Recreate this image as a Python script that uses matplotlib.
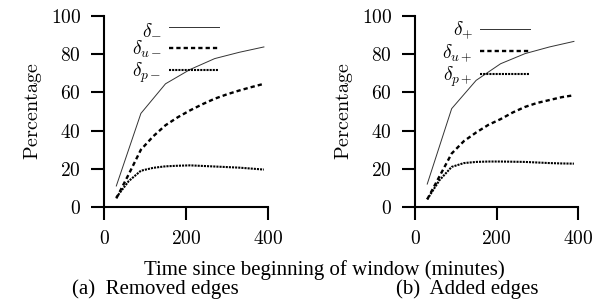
import matplotlib
matplotlib.use("Agg")
import matplotlib.pyplot as plt

plt.rcParams['mathtext.fontset'] = 'cm'
plt.rcParams['font.family'] = ['Liberation Serif', 'DejaVu Serif']

# Data
t_solid = [30, 90, 150, 210, 270, 330, 390]
t_fine = [30, 60, 90, 120, 150, 180, 210, 240, 270, 300, 330, 360, 390]

rem_delta = [11, 49, 64.5, 72, 77.7, 81, 83.8]
rem_u = [4.5, 17, 30, 37, 42.8, 47, 50.6, 53.8, 56.7, 59, 61, 62.8, 64.5]
rem_p = [5, 13.5, 19, 20.5, 21.3, 21.6, 21.8, 21.5, 21.2, 20.9, 20.6, 20.1, 19.6]

add_delta = [12, 51.5, 66.3, 75, 80.3, 83.8, 86.7]
add_u = [4, 16, 28, 34.5, 39, 43, 46, 49.5, 52.4, 54.5, 56, 57.5, 58.5]
add_p = [4, 14, 21, 23, 23.6, 23.8, 23.8, 23.7, 23.6, 23.3, 23, 22.8, 22.7]

rem_labels = [r'$\delta_{-}$', r'$\delta_{u-}$', r'$\delta_{p-}$']
add_labels = [r'$\delta_{+}$', r'$\delta_{u+}$', r'$\delta_{p+}$']

xticks = [0, 200, 400]
yticks = [0, 20, 40, 60, 80, 100]

W, H = 615, 303
fig = plt.figure(figsize=(W / 100, H / 100), dpi=100)

def px_axes(x0, y0, x1, y1):
    return fig.add_axes([x0 / W, 1 - y1 / H, (x1 - x0) / W, (y1 - y0) / H])

ax1 = px_axes(104, 16, 268, 207)
ax2 = px_axes(415, 16, 578, 207)

for ax, d, u, p, labels in [(ax1, rem_delta, rem_u, rem_p, rem_labels),
                            (ax2, add_delta, add_u, add_p, add_labels)]:
    ax.plot(t_solid, d, color='#333333', lw=0.7, label=labels[0])
    ax.plot(t_fine, u, color='black', lw=1.7, dashes=(1.8, 1.3), label=labels[1])
    ax.plot(t_fine, p, color='black', lw=1.5, dashes=(1.0, 0.5), label=labels[2])
    ax.set_xlim(0, 400)
    ax.set_ylim(0, 100)
    for s in ['top', 'right']:
        ax.spines[s].set_visible(False)
    for s in ['left', 'bottom']:
        ax.spines[s].set_linewidth(1.5)
    ax.set_xticks(xticks)
    ax.set_xticklabels([r'$%d$' % v for v in xticks])
    ax.set_yticks(yticks)
    ax.set_yticklabels([r'$%d$' % v for v in yticks])
    ax.tick_params(direction='out', length=9.5, width=1.5, labelsize=14, pad=7)
    ax.set_ylabel(r'$\mathrm{Percentage}$', fontsize=14.5, labelpad=5)
    ax.patch.set_alpha(0)
    leg = ax.legend(loc='upper left', bbox_to_anchor=(0.085, 1.05), frameon=False,
                    markerfirst=False, fontsize=14, handlelength=2.6,
                    handletextpad=0.35, labelspacing=0.05, borderpad=0.2)
    for t in leg.get_texts():
        t.set_ha('right')

fig.text(324 / W, 1 - 270 / H, 'Time since beginning of window (minutes)',
         ha='center', va='center', fontsize=15)
fig.text(155 / W, 1 - 289 / H, '(a)  Removed edges', ha='center', va='center', fontsize=15)
fig.text(467 / W, 1 - 289 / H, '(b)  Added edges', ha='center', va='center', fontsize=15)

fig.savefig('out.png', dpi=100)
